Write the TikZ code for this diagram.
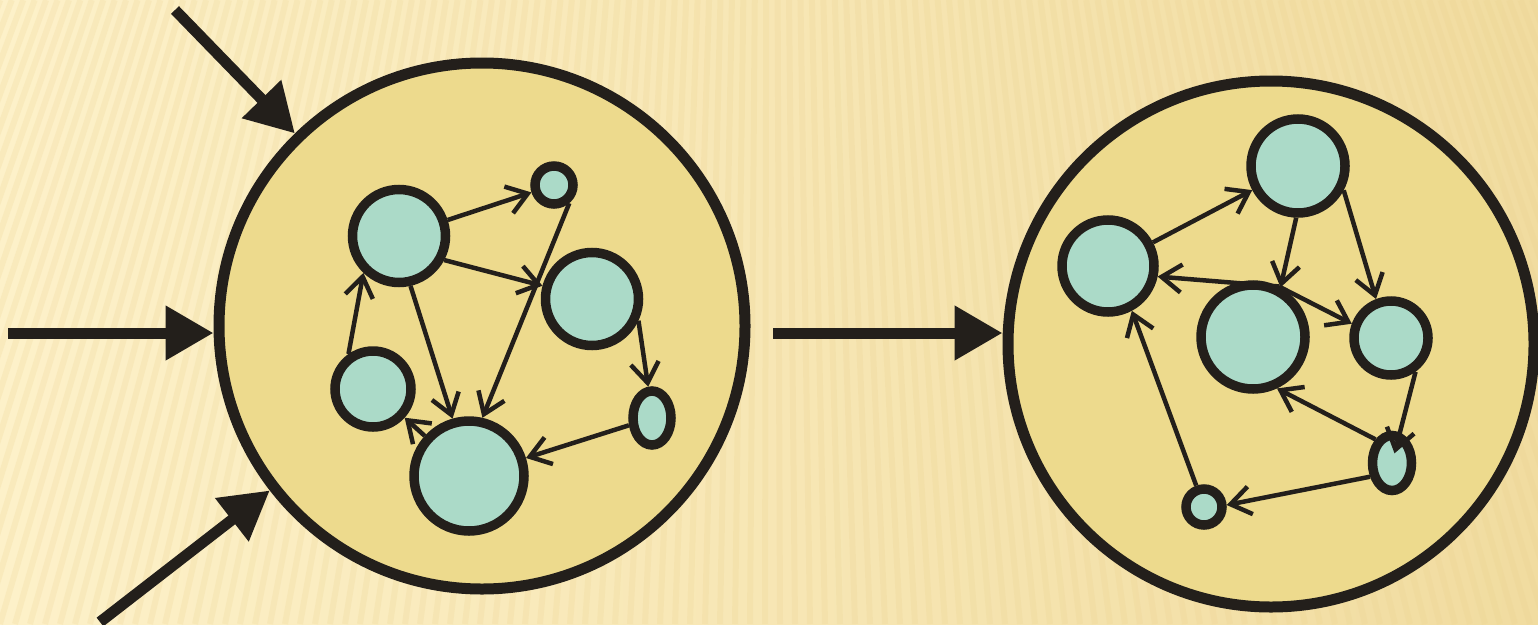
\documentclass[tikz,border=0pt]{standalone}
\usetikzlibrary{arrows.meta,shapes.geometric}

\definecolor{ink}{HTML}{231F1B}
\definecolor{sand}{HTML}{EDDA8D}
\definecolor{mint}{HTML}{ABDAC8}
\definecolor{paperL}{HTML}{FDF1C9}
\definecolor{paperM}{HTML}{FCEFC4}
\definecolor{paperR}{HTML}{F1DCA0}
\definecolor{groove}{HTML}{EAD08C}

\begin{document}
\begin{tikzpicture}[x=1pt,y=-1pt,
		pool/.style={circle,draw=ink,fill=sand,line width=11pt,minimum size=526pt,inner sep=0pt},
		vertex/.style={circle,draw=ink,fill=mint,line width=9.5pt,inner sep=0pt},
		blob/.style={ellipse,draw=ink,fill=mint,line width=9.5pt,inner sep=0pt},
		link/.style={draw=ink,line width=4.5pt,-{Straight Barb[length=20pt,width=28pt]}},
		feed/.style={draw=ink,line width=11pt,-{Triangle[length=48pt,width=52pt]}}]
	\useasboundingbox (0,0) rectangle (1538,624);
	% paper
	\fill[left color=paperL,middle color=paperM,right color=paperR] (0,0) rectangle (1538,624);
	\begin{scope}
		\clip (0,0) rectangle (1538,624);
		\foreach \x in {-255,-240,...,1800}
			\draw[groove,line width=6pt,opacity=.2] (\x,624) -- ({\x+(770-\x)*0.238},0);
	\end{scope}

	% the two pools
	\node[pool] (src) at (482,326) {};
	\node[pool] (dst) at (1271,344) {};

	% inputs
	\coordinate (in1) at (175,10);
	\coordinate (in2) at (8,333);
	\coordinate (in3) at (100,622);
	\coordinate (out1) at (773,333);
	\draw[feed] (in1) -- (src);
	\draw[feed] (in2) -- (in2 -| src.west);
	\draw[feed] (in3) -- (src);
	\draw[feed] (out1) -- (out1 -| dst.west);

	% graph before
	\node[vertex,minimum size=93pt] (la) at (399,236) {};
	\node[vertex,minimum size=38pt] (lb) at (554,185) {};
	\node[vertex,minimum size=93pt] (lc) at (592,299) {};
	\node[vertex,minimum size=76pt] (ld) at (373,389) {};
	\node[vertex,minimum size=110pt] (le) at (469,476) {};
	\node[blob,minimum width=38pt,minimum height=54pt] (lf) at (652,418) {};
	\draw[link] (la) -- (lb);
	\draw[link] (la.-28) -- (lc.165);
	\draw[link] (la.-77) -- (le.106);
	\draw[link] (lb.-50) -- (le.77);
	\draw[link] (lc.-25) -- (lf.97);
	\draw[link] (lf) -- (le);
	\draw[link] (ld.125) -- (la.226);
	\draw[link] (le) -- (ld);

	% graph after
	\node[vertex,minimum size=94pt] (rp) at (1298,166) {};
	\node[vertex,minimum size=92pt] (rq) at (1108,266) {};
	\node[vertex,minimum size=104pt] (rr) at (1253,337) {};
	\node[vertex,minimum size=74pt] (rs) at (1391,338) {};
	\node[blob,minimum width=39pt,minimum height=55pt] (rt) at (1392,463) {};
	\node[vertex,minimum size=36pt] (ru) at (1204,507) {};
	\draw[link] (rq) -- (rp);
	\draw[link] (rp.-92) -- (rr.61);
	\draw[link] (rp.-28) -- (rs.111);
	\draw[link] (rr.63) -- (rq.-12);
	\draw[link] (rr.63) -- (rs.160);
	\draw[link,shorten >=10pt] (rs.-54) -- (rt.center);
	\draw[link] (rt.125) -- (rr.-65);
	\draw[link] (rt.212) -- (ru.5);
	\draw[link] (ru.110) -- (rq.-62);
\end{tikzpicture}
\end{document}
